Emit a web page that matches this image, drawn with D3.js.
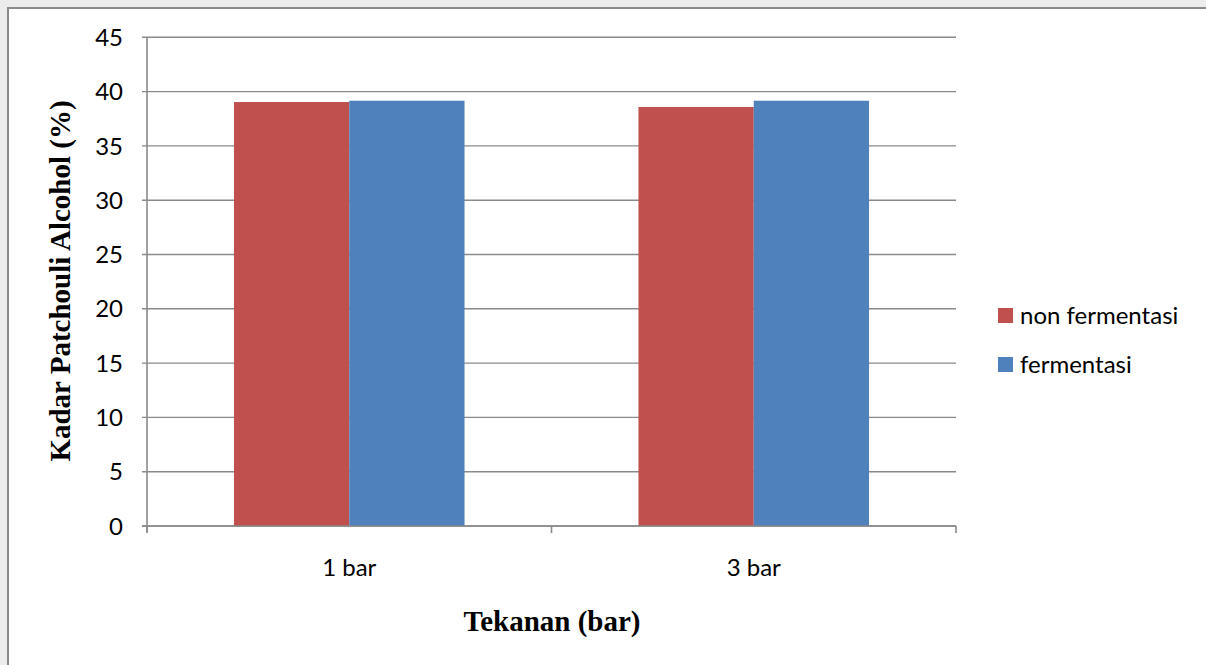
<!DOCTYPE html>
<html>
<head>
<meta charset="utf-8">
<script src="https://cdn.jsdelivr.net/npm/d3@7"></script>
<style>
  html, body { margin: 0; padding: 0; background: #ececec; }
  svg { display: block; }
</style>
</head>
<body>
<svg id="chart" width="1206" height="665"></svg>
<script>
// Pressure levels on the x axis
const categories = ["1 bar", "3 bar"];
// Series names
const seriesNames = ["non fermentasi", "fermentasi"];
// Patchouli alcohol content (%) per pressure level
const nonFermentasi = [39.04, 38.58];
const fermentasi = [39.16, 39.16];
// Y axis tick values
const yTicks = [0, 5, 10, 15, 20, 25, 30, 35, 40, 45];

const colors = ["#C0504D", "#4F81BD"];
const seriesValues = [nonFermentasi, fermentasi];
const labelFont = "Lato, 'Open Sans', sans-serif";
const titleFont = "'Liberation Serif', 'DejaVu Serif', serif";

const svg = d3.select("#chart");

// Chart frame
svg.append("rect")
  .attr("x", 8).attr("y", 8)
  .attr("width", 1220).attr("height", 680)
  .attr("fill", "#ffffff")
  .attr("stroke", "#8a8a8a")
  .attr("stroke-width", 2);

const plot = { left: 147, right: 956, top: 37.3, bottom: 526 };

const y = d3.scaleLinear().domain([0, 45]).range([plot.bottom, plot.top]);
const x0 = d3.scaleBand().domain(categories).range([plot.left, plot.right]).paddingInner(0.43).paddingOuter(0.215);
const x1 = d3.scaleBand().domain(seriesNames).range([0, x0.bandwidth()]);

// Horizontal gridlines
svg.append("g")
  .selectAll("line")
  .data(yTicks)
  .join("line")
  .attr("x1", plot.left - 5)
  .attr("x2", plot.right)
  .attr("y1", d => y(d))
  .attr("y2", d => y(d))
  .attr("stroke", "#8a8a8a")
  .attr("stroke-width", 1.4);

// Y axis labels
svg.append("g")
  .selectAll("text")
  .data(yTicks)
  .join("text")
  .attr("x", 123)
  .attr("y", d => y(d))
  .attr("dy", "0.36em")
  .attr("text-anchor", "end")
  .attr("font-family", labelFont)
  .attr("font-size", 24)
  .attr("fill", "#000")
  .text(d => d);

// Bars
const groups = svg.append("g")
  .selectAll("g")
  .data(categories)
  .join("g")
  .attr("transform", d => `translate(${x0(d)},0)`);

groups.selectAll("rect")
  .data((c, i) => seriesNames.map((s, j) => ({ s, j, v: seriesValues[j][i] })))
  .join("rect")
  .attr("x", d => x1(d.s))
  .attr("width", x1.bandwidth())
  .attr("y", d => y(d.v))
  .attr("height", d => y(0) - y(d.v))
  .attr("fill", d => colors[d.j]);

// Y axis line
svg.append("line")
  .attr("x1", plot.left).attr("x2", plot.left)
  .attr("y1", plot.top).attr("y2", plot.bottom + 6)
  .attr("stroke", "#8a8a8a").attr("stroke-width", 1.6);

// X axis line and tick marks at category boundaries
svg.append("line")
  .attr("x1", plot.left - 5).attr("x2", plot.right)
  .attr("y1", plot.bottom).attr("y2", plot.bottom)
  .attr("stroke", "#8a8a8a").attr("stroke-width", 1.6);

const boundaries = [plot.left, (plot.left + plot.right) / 2, plot.right];
svg.append("g")
  .selectAll("line")
  .data(boundaries)
  .join("line")
  .attr("x1", d => d).attr("x2", d => d)
  .attr("y1", plot.bottom).attr("y2", plot.bottom + 7)
  .attr("stroke", "#8a8a8a").attr("stroke-width", 1.6);

// Category labels
svg.append("g")
  .selectAll("text")
  .data(categories)
  .join("text")
  .attr("x", d => x0(d) + x0.bandwidth() / 2)
  .attr("y", 576)
  .attr("text-anchor", "middle")
  .attr("font-family", labelFont)
  .attr("font-size", 24)
  .attr("fill", "#000")
  .text(d => d);

// Axis titles
svg.append("text")
  .attr("x", 552)
  .attr("y", 631)
  .attr("text-anchor", "middle")
  .attr("font-family", titleFont)
  .attr("font-weight", "bold")
  .attr("font-size", 29)
  .attr("fill", "#000")
  .text("Tekanan (bar)");

svg.append("text")
  .attr("transform", "translate(70,281) rotate(-90)")
  .attr("text-anchor", "middle")
  .attr("font-family", titleFont)
  .attr("font-weight", "bold")
  .attr("font-size", 29)
  .attr("fill", "#000")
  .text("Kadar Patchouli Alcohol (%)");

// Legend
const legend = svg.append("g")
  .selectAll("g")
  .data(seriesNames)
  .join("g")
  .attr("transform", (d, i) => `translate(998,${315 + i * 49})`);

legend.append("rect")
  .attr("x", 0).attr("y", -7)
  .attr("width", 15).attr("height", 15)
  .attr("fill", (d, i) => colors[i]);

legend.append("text")
  .attr("x", 22)
  .attr("y", 0)
  .attr("dy", "0.36em")
  .attr("font-family", labelFont)
  .attr("font-size", 24)
  .attr("fill", "#000")
  .text(d => d);
</script>
</body>
</html>
